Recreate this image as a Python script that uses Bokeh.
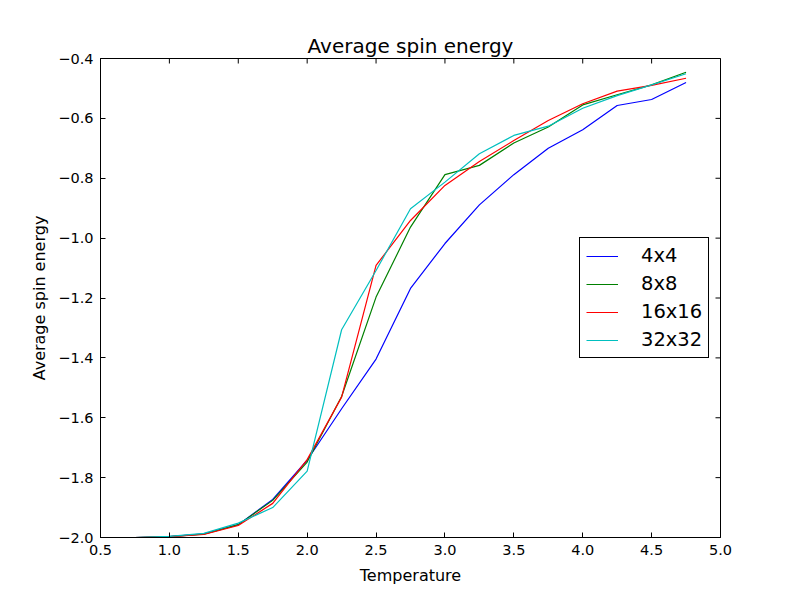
import math
from bokeh.plotting import figure
from bokeh.models import Range1d, LinearAxis, FixedTicker, CustomJSTickFormatter, Legend, LegendItem
from bokeh.embed import file_html
from bokeh.resources import INLINE

temperature = [0.5, 0.75, 1.0, 1.25, 1.5, 1.75, 2.0, 2.25, 2.5, 2.75, 3.0, 3.25, 3.5, 3.75, 4.0, 4.25, 4.5, 4.75]
e_4x4 = [-2.0, -2.0, -1.997, -1.988, -1.957, -1.873, -1.742, -1.57, -1.404, -1.168, -1.018, -0.889, -0.788, -0.70, -0.638, -0.557, -0.537, -0.48]
e_8x8 = [-2.0, -2.0, -1.997, -1.989, -1.957, -1.876, -1.748, -1.529, -1.197, -0.963, -0.788, -0.757, -0.682, -0.629, -0.555, -0.521, -0.488, -0.446]
e_16x16 = [-2.0, -2.0, -1.997, -1.99, -1.96, -1.886, -1.74, -1.531, -1.091, -0.941, -0.824, -0.744, -0.674, -0.607, -0.551, -0.509, -0.49, -0.466]
e_32x32 = [-2.0, -2.0, -1.996, -1.986, -1.952, -1.90, -1.778, -1.306, -1.108, -0.902, -0.813, -0.718, -0.657, -0.626, -0.566, -0.524, -0.488, -0.451]
series_labels = ["4x4", "8x8", "16x16", "32x32"]
series_colors = ["#0000ff", "#008000", "#ff0000", "#00bfbf"]
x_ticks = [0.5, 1.0, 1.5, 2.0, 2.5, 3.0, 3.5, 4.0, 4.5, 5.0]
y_ticks = [-2.0, -1.8, -1.6, -1.4, -1.2, -1.0, -0.8, -0.6, -0.4]
x_lim = (0.5, 5.0)
y_lim = (-2.0, -0.4)

FONT = "DejaVu Sans"

p = figure(frame_width=620, frame_height=479,
           min_border_left=100, min_border_right=80, min_border_top=58, min_border_bottom=60,
           x_range=Range1d(*x_lim), y_range=Range1d(*y_lim),
           output_backend="svg", toolbar_location=None, x_axis_type=None, y_axis_type=None,
           title="Average spin energy")
p.title.align = "center"
p.title.text_font = FONT
p.title.text_font_size = "20px"
p.title.text_font_style = "normal"
p.title.text_color = "black"
p.title.standoff = 2
p.grid.visible = False
p.outline_line_color = "black"
p.outline_line_width = 1
p.background_fill_color = "white"
p.border_fill_color = "white"

fmt = CustomJSTickFormatter(code="return tick.toFixed(1).replace('-', '\\u2212');")

def style_axis(ax):
    ax.major_tick_in = 5
    ax.major_tick_out = 0
    ax.minor_tick_in = 0
    ax.minor_tick_out = 0
    ax.axis_line_color = "black"
    ax.major_tick_line_color = "black"
    ax.major_label_text_font = FONT
    ax.major_label_text_font_size = "14.5px"
    ax.major_label_text_color = "black"
    ax.major_label_standoff = 7
    ax.axis_label_text_font = FONT
    ax.axis_label_text_font_style = "normal"
    ax.axis_label_text_font_size = "16px"
    ax.axis_label_text_color = "black"

xb = LinearAxis(ticker=FixedTicker(ticks=x_ticks), formatter=fmt, axis_label="Temperature")
style_axis(xb)
xb.axis_label_standoff = 8
yl = LinearAxis(ticker=FixedTicker(ticks=y_ticks), formatter=fmt, axis_label="Average spin energy")
style_axis(yl)
yl.axis_label_standoff = 6
p.add_layout(xb, "below")
p.add_layout(yl, "left")

# inward tick marks on the top and right frame edges (half of each dash is clipped by the frame)
p.scatter(x_ticks, [y_lim[1]] * len(x_ticks), marker="dash", angle=math.pi / 2, size=10,
          line_color="black", line_width=1)
p.scatter([x_lim[1]] * len(y_ticks), y_ticks, marker="dash", size=10,
          line_color="black", line_width=1)

items = []
for vals, lab, col in zip([e_4x4, e_8x8, e_16x16, e_32x32], series_labels, series_colors):
    r = p.line(temperature, vals, line_color=col, line_width=1.2)
    items.append(LegendItem(label=lab, renderers=[r]))

legend = Legend(items=items, location=(479, 179))
legend.label_text_font = FONT
legend.label_text_font_size = "19.5px"
legend.label_text_color = "black"
legend.glyph_width = 32
legend.glyph_height = 20
legend.label_height = 20
legend.label_standoff = 23
legend.spacing = 5
legend.padding = 6
legend.margin = 0
legend.border_line_color = "black"
legend.border_line_alpha = 1
legend.border_line_width = 1
legend.background_fill_alpha = 1
p.add_layout(legend, "center")

open("out.html", "w").write(file_html(p, INLINE))
